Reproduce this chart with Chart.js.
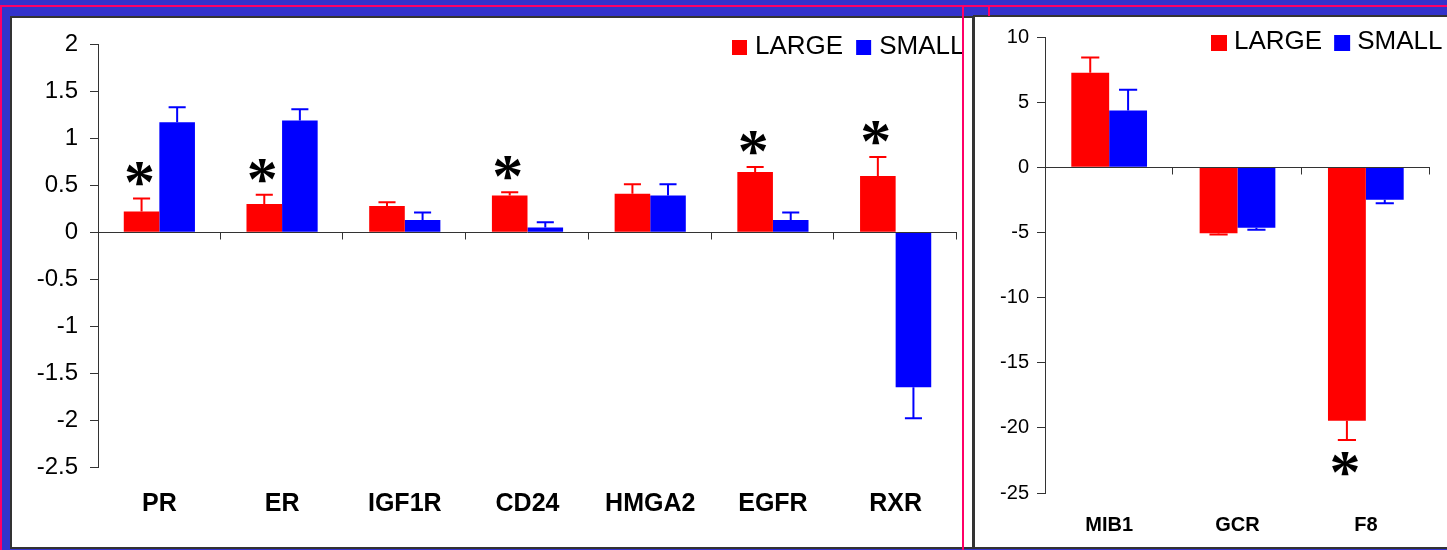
<!DOCTYPE html>
<html>
<head>
<meta charset="utf-8">
<title>LARGE vs SMALL</title>
<script src="https://cdn.jsdelivr.net/npm/chart.js@4.4.1/dist/chart.umd.min.js"></script>
<style>
  body { margin: 0; width: 1447px; height: 550px; overflow: hidden; background: #3333cc; position: relative; }
  .panel { position: absolute; background: #fff; border: 2px solid #333; box-sizing: border-box; overflow: hidden; }
  #leftPanel { left: 10px; top: 16px; width: 964px; height: 533px; }
  #rightPanel { left: 973px; top: 15px; width: 480px; height: 534px; }
  .panel canvas { position: absolute; left: 0; top: 0; }
  .pink { position: absolute; background: #ff0066; z-index: 5; }
</style>
</head>
<body>
<div class="panel" id="leftPanel"><canvas id="leftChart" width="960" height="529"></canvas></div>
<div class="panel" id="rightPanel"><canvas id="rightChart" width="472" height="530"></canvas></div>
<div class="pink" style="left:0;top:5px;width:1447px;height:2px"></div>
<div class="pink" style="left:0;top:5px;width:2px;height:545px"></div>
<div class="pink" style="left:962px;top:5px;width:2px;height:545px"></div>
<div class="pink" style="left:988px;top:5px;width:2px;height:11px"></div>
<script>
// Marker expression, LARGE vs SMALL
const leftCategories = ['PR', 'ER', 'IGF1R', 'CD24', 'HMGA2', 'EGFR', 'RXR'];
const leftLarge = [0.22, 0.30, 0.28, 0.39, 0.41, 0.64, 0.60];
const leftLargeErr = [0.14, 0.10, 0.04, 0.035, 0.10, 0.055, 0.20];
const leftSmall = [1.17, 1.19, 0.13, 0.05, 0.39, 0.13, -1.65];
const leftSmallErr = [0.16, 0.12, 0.08, 0.055, 0.12, 0.08, 0.33];
const leftStars = ['PR', 'ER', 'CD24', 'EGFR', 'RXR'];
const leftTicks = [-2.5, -2, -1.5, -1, -0.5, 0, 0.5, 1, 1.5, 2];

const rightCategories = ['MIB1', 'GCR', 'F8'];
const rightLarge = [7.25, -5.07, -19.46];
const rightLargeErr = [1.17, 0.08, 1.48];
const rightSmall = [4.35, -4.64, -2.5];
const rightSmallErr = [1.6, 0.15, 0.26];
const rightStars = ['F8'];
const rightTicks = [-25, -20, -15, -10, -5, 0, 5, 10];

const RED = '#ff0000';
const BLUE = '#0000ff';
const SANS = '"Liberation Sans", Arial, sans-serif';

// x axis drawn through zero, with tick marks between categories
const zeroAxis = {
  id: 'zeroAxis',
  afterDatasetsDraw(chart) {
    const { ctx, chartArea, scales } = chart;
    const y0 = Math.round(scales.y.getPixelForValue(0)) + 0.5;
    const n = chart.data.labels.length;
    const step = (chartArea.right - chartArea.left) / n;
    ctx.save();
    ctx.strokeStyle = '#333';
    ctx.lineWidth = 1;
    ctx.beginPath();
    ctx.moveTo(chartArea.left, y0);
    ctx.lineTo(chartArea.right, y0);
    for (let i = 1; i <= n; i++) {
      const x = Math.round(chartArea.left + i * step) - 0.5;
      ctx.moveTo(x, y0);
      ctx.lineTo(x, y0 + 7);
    }
    ctx.stroke();
    ctx.restore();
  }
};

// one-sided error bars, pointing away from zero
const errorBars = {
  id: 'errorBars',
  afterDatasetsDraw(chart) {
    const ctx = chart.ctx;
    const yScale = chart.scales.y;
    chart.data.datasets.forEach((ds, i) => {
      chart.getDatasetMeta(i).data.forEach((bar, j) => {
        const v = ds.data[j];
        const dir = v < 0 ? -1 : 1;
        const end = yScale.getPixelForValue(v + dir * ds.errors[j]);
        const half = bar.width * 0.24;
        ctx.save();
        ctx.strokeStyle = ds.backgroundColor;
        ctx.lineWidth = 2;
        ctx.beginPath();
        ctx.moveTo(bar.x, bar.y);
        ctx.lineTo(bar.x, end);
        ctx.moveTo(bar.x - half, end);
        ctx.lineTo(bar.x + half, end);
        ctx.stroke();
        ctx.restore();
      });
    });
  }
};

// significance asterisks beyond the LARGE error bar
const stars = {
  id: 'stars',
  afterDatasetsDraw(chart, args, opts) {
    const ctx = chart.ctx;
    const yScale = chart.scales.y;
    const ds = chart.data.datasets[0];
    const meta = chart.getDatasetMeta(0);
    ctx.save();
    ctx.fillStyle = '#000';
    ctx.textAlign = 'center';
    ctx.textBaseline = 'alphabetic';
    ctx.font = 'bold ' + opts.size + 'px "Liberation Serif", "Times New Roman", serif';
    const m = ctx.measureText('*');
    opts.marks.forEach(label => {
      const j = chart.data.labels.indexOf(label);
      const v = ds.data[j];
      const dir = v < 0 ? -1 : 1;
      const end = yScale.getPixelForValue(v + dir * ds.errors[j]);
      const cy = end - dir * opts.offset;
      const base = cy + (m.actualBoundingBoxAscent - m.actualBoundingBoxDescent) / 2;
      ctx.fillText('*', meta.data[j].x - 2, base);
    });
    ctx.restore();
  }
};

// square-swatch legend in the top right corner
const boxLegend = {
  id: 'boxLegend',
  afterDraw(chart, args, opts) {
    const ctx = chart.ctx;
    let x = opts.x;
    ctx.save();
    ctx.font = opts.fontSize + 'px ' + SANS;
    ctx.textBaseline = 'alphabetic';
    chart.data.datasets.forEach(ds => {
      ctx.fillStyle = ds.backgroundColor;
      ctx.fillRect(x, opts.y, opts.box, opts.box);
      x += opts.box + opts.gap;
      ctx.fillStyle = '#000';
      ctx.fillText(ds.label, x, opts.y + 14);
      x += ctx.measureText(ds.label).width + opts.spacing;
    });
    ctx.restore();
  }
};

function makeChart(id, cfg) {
  return new Chart(document.getElementById(id), {
    type: 'bar',
    data: {
      labels: cfg.labels,
      datasets: [
        { label: 'LARGE', data: cfg.large, errors: cfg.largeErr, backgroundColor: RED },
        { label: 'SMALL', data: cfg.small, errors: cfg.smallErr, backgroundColor: BLUE }
      ]
    },
    options: {
      responsive: false,
      animation: false,
      devicePixelRatio: 1,
      barPercentage: 1,
      categoryPercentage: cfg.catPct,
      layout: { padding: { top: cfg.padTop, right: cfg.padRight, bottom: 0, left: 0 } },
      scales: {
        x: {
          grid: { display: false, drawTicks: false },
          border: { display: false },
          ticks: {
            color: '#000',
            padding: cfg.labelPad,
            maxRotation: 0,
            font: { family: SANS, size: cfg.labelSize, weight: 'bold' }
          },
          afterFit: s => { s.height = cfg.xHeight; }
        },
        y: {
          min: cfg.ticks[0],
          max: cfg.ticks[cfg.ticks.length - 1],
          afterBuildTicks: s => { s.ticks = cfg.ticks.map(v => ({ value: v })); },
          grid: { drawOnChartArea: false, drawTicks: true, tickLength: 8, color: '#333' },
          border: { display: true, color: '#333', width: 1 },
          ticks: {
            color: '#000',
            padding: cfg.tickPad,
            autoSkip: false,
            font: { family: SANS, size: cfg.tickSize },
            callback: v => String(v)
          },
          afterFit: s => { s.width = cfg.yWidth; }
        }
      },
      plugins: {
        legend: { display: false },
        tooltip: { enabled: false },
        stars: { marks: cfg.stars, size: 62, offset: 24 },
        boxLegend: cfg.legend
      }
    },
    plugins: [zeroAxis, errorBars, stars, boxLegend]
  });
}

const leftChart = makeChart('leftChart', {
  labels: leftCategories,
  large: leftLarge, largeErr: leftLargeErr,
  small: leftSmall, smallErr: leftSmallErr,
  stars: leftStars, ticks: leftTicks,
  catPct: 0.58, padTop: 21, padRight: 15,
  xHeight: 80, labelPad: 22, labelSize: 25,
  yWidth: 86, tickPad: 12, tickSize: 24,
  legend: { x: 720, y: 22, box: 15, gap: 8, spacing: 13, fontSize: 26 }
});

const rightChart = makeChart('rightChart', {
  labels: rightCategories,
  large: rightLarge, largeErr: rightLargeErr,
  small: rightSmall, smallErr: rightSmallErr,
  stars: rightStars, ticks: rightTicks,
  catPct: 0.59, padTop: 18, padRight: 17,
  xHeight: 54, labelPad: 20, labelSize: 20,
  yWidth: 70, tickPad: 8, tickSize: 20,
  legend: { x: 236, y: 18, box: 16, gap: 7, spacing: 12, fontSize: 26 }
});
</script>
</body>
</html>
